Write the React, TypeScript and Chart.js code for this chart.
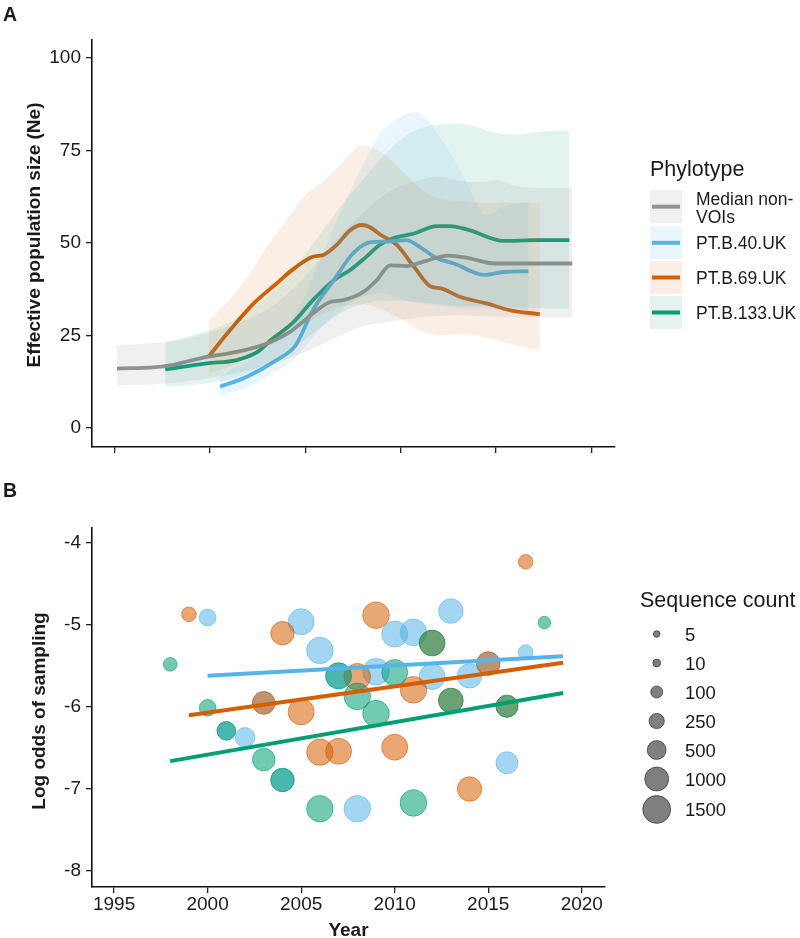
import { useEffect, useRef } from "react";
import { Chart, registerables } from "chart.js";

Chart.register(...registerables);

const FONT = '"Liberation Sans", Arial, Helvetica, sans-serif';
const INK = "#1a1a1a";

// ---------- shared x axis ----------
const X_MIN = 1993.82;
const X_MAX = 2021.24;
const yearTicks = [1995, 2000, 2005, 2010, 2015, 2020];

// ---------- panel A: effective population size ----------
const phylotypeNames = ["Median non-VOIs", "PT.B.40.UK", "PT.B.69.UK", "PT.B.133.UK"];
const lineColors = ["#929292", "#56B4E9", "#D55E00", "#009E73"];
const bandColors = [
  "rgba(150,150,150,0.14)",
  "rgba(86,180,233,0.12)",
  "rgba(213,94,0,0.10)",
  "rgba(0,158,115,0.11)",
];
const neTicks = [0, 25, 50, 75, 100];

const nonVoiYears = [1995.13, 1996, 1997, 1998, 1998.4, 1999.9, 2001.4, 2003, 2004.2, 2005.4, 2006.3, 2007, 2008.05, 2008.75, 2009.45, 2010.3, 2011.2, 2012.5, 2013.6, 2014.9, 2016, 2017, 2018, 2019];
const nonVoiNe = [16.1, 16.2, 16.4, 17, 17.5, 19.3, 20.6, 22.9, 26, 31, 34.1, 34.6, 36.8, 40, 44, 43.8, 45, 46.6, 45.9, 44.5, 44.5, 44.5, 44.5, 44.5];
const nonVoiBandYears = [1995.13, 1996, 1997, 1998, 1999, 2000, 2001, 2002, 2003, 2004, 2005, 2006, 2007, 2008, 2009, 2010, 2011, 2012, 2013, 2014, 2015, 2016, 2017, 2018, 2019];
const nonVoiLower = [11.6, 11.7, 11.8, 12.2, 12.8, 13.5, 14.5, 15.5, 17, 18.5, 20.5, 23, 25.5, 27.5, 28.5, 29.2, 30, 30.3, 30.5, 30.3, 30.2, 30, 30, 30, 30];
const nonVoiUpper = [22.4, 22.6, 23, 23.5, 24.5, 26, 27.5, 29.5, 32, 36, 41, 47, 53, 58, 62.5, 65.5, 67, 68, 67, 66.5, 67, 65.5, 65, 65, 65];

const b40Years = [2000.54, 2001.94, 2003.5, 2004.5, 2005.4, 2006.5, 2007.5, 2008.4, 2009.3, 2010.3, 2011.0, 2011.9, 2012.8, 2014.4, 2015.4, 2016.7];
const b40Ne = [11.2, 13.9, 18.4, 22.4, 31.9, 40, 47.2, 50.2, 50.4, 50.8, 49, 45.9, 44.5, 41.4, 42.2, 42.4];
const b40BandYears = [2000.54, 2001, 2002, 2003, 2004, 2005, 2006, 2007, 2008, 2009, 2010, 2010.7, 2011.4, 2012, 2013, 2014, 2014.4, 2015.4, 2016.7];
const b40Lower = [8.5, 9.5, 11, 14, 17, 22, 28, 32.5, 35.5, 36.5, 35, 34, 33.5, 33, 32.5, 32.3, 32.2, 32, 32];
const b40Upper = [14, 15.5, 18, 22, 27, 36, 48, 60, 71, 80, 84, 85.5, 83.5, 79, 71, 61, 57.5, 60, 61];

const b69Years = [1999.93, 2001.06, 2002.3, 2003.5, 2004.3, 2005.4, 2005.95, 2006.65, 2007.35, 2007.97, 2008.4, 2008.9, 2009.8, 2010.7, 2011.6, 2012.1, 2013.1, 2014.5, 2015.7, 2017.3];
const b69Ne = [19.3, 26.5, 33.7, 39.1, 42.7, 46.3, 46.8, 49.5, 53.5, 54.9, 54.3, 52.4, 49.5, 43.6, 38.2, 37.8, 35.5, 33.7, 31.9, 30.8];
const b69BandYears = [1999.93, 2001, 2002, 2003, 2004, 2005, 2006, 2007, 2008, 2009, 2010, 2011, 2012, 2013, 2014, 2015, 2016, 2017.3];
const b69Lower = [14.8, 16.5, 19, 22, 25, 28, 31, 33, 33.5, 32, 29.5, 26.5, 25, 25.5, 25, 23.8, 22.5, 21];
const b69Upper = [29, 34.5, 41, 49, 56, 63, 67, 72, 76.5, 74.5, 70, 65, 62, 61.5, 61, 61, 61, 61];

const b133Years = [1997.66, 1999.84, 2001.4, 2002.5, 2003.2, 2004.4, 2005.4, 2006.5, 2007.35, 2008.2, 2008.9, 2009.6, 2010.7, 2011.9, 2012.6, 2013.6, 2015.4, 2017.1, 2018.85];
const b133Ne = [15.9, 17.5, 18.4, 20.6, 23.8, 28.7, 34.6, 40, 42.7, 46.3, 49.5, 51.3, 52.6, 54.6, 54.6, 53.5, 50.6, 50.8, 50.8];
const b133BandYears = [1997.66, 1998, 1999, 2000, 2001, 2002, 2003, 2004, 2005, 2006, 2007, 2008, 2009, 2010, 2011, 2012, 2013, 2014, 2015, 2016, 2017, 2018, 2018.85];
const b133Lower = [11.2, 11.3, 11.6, 12.2, 13.2, 14.8, 17, 20, 24, 28, 31.5, 33.5, 34.5, 34.5, 34, 33.5, 33, 33, 32.8, 32.6, 32.5, 32.4, 32.4];
const b133Upper = [23.3, 23.6, 25, 26.5, 28.5, 31.5, 35.5, 40.5, 47, 54, 61, 67, 73, 78, 81, 82, 82.3, 81.3, 79.8, 79.3, 80, 80.3, 80.3];

const neSeries = [
  { years: nonVoiYears, median: nonVoiNe, bandYears: nonVoiBandYears, lower: nonVoiLower, upper: nonVoiUpper },
  { years: b40Years, median: b40Ne, bandYears: b40BandYears, lower: b40Lower, upper: b40Upper },
  { years: b69Years, median: b69Ne, bandYears: b69BandYears, lower: b69Lower, upper: b69Upper },
  { years: b133Years, median: b133Ne, bandYears: b133BandYears, lower: b133Lower, upper: b133Upper },
];

// ---------- panel B: log odds of sampling ----------
const logOddsTicks = [-8, -7, -6, -5, -4];
const countYears = [1998, 1999, 2000, 2001, 2002, 2003, 2004, 2005, 2006, 2007, 2008, 2009, 2010, 2011, 2012, 2013, 2014, 2015, 2016, 2017, 2018];
const sequenceCounts = [170, 220, 340, 480, 560, 850, 940, 1240, 1300, 1240, 1320, 1320, 1240, 1320, 1200, 1070, 1050, 940, 790, 220, 120];
const sizeBreaks = [5, 10, 100, 250, 500, 1000, 1500];

const b40SampleYears = [2000, 2001, 2002, 2003, 2004, 2005, 2006, 2007, 2008, 2009, 2010, 2011, 2012, 2013, 2014, 2015, 2016, 2017];
const b40LogOdds = [-4.91, -6.29, -6.37, -5.95, -6.89, -4.96, -5.31, -5.62, -7.24, -5.57, -5.11, -5.09, -5.63, -4.83, -5.62, -5.47, -6.68, -5.33];
const b69SampleYears = [1999, 2003, 2004, 2005, 2006, 2007, 2008, 2009, 2010, 2011, 2012, 2013, 2014, 2015, 2016, 2017];
const b69LogOdds = [-4.87, -5.95, -5.1, -6.06, -6.55, -6.54, -5.63, -4.88, -6.49, -5.79, -5.22, -5.92, -7.0, -5.47, -5.99, -4.23];
const b133SampleYears = [1998, 2000, 2001, 2003, 2004, 2006, 2007, 2008, 2009, 2010, 2011, 2012, 2013, 2016, 2018];
const b133LogOdds = [-5.48, -6.01, -6.29, -6.64, -6.89, -7.24, -5.62, -5.87, -6.08, -5.58, -7.17, -5.22, -5.92, -5.99, -4.97];

// fitted trends: [start year, end year] and [start value, end value]
const b40TrendYears = [2000, 2019];
const b40TrendFit = [-5.62, -5.38];
const b69TrendYears = [1999, 2019];
const b69TrendFit = [-6.1, -5.46];
const b133TrendYears = [1998, 2019];
const b133TrendFit = [-6.66, -5.83];

const pointRgb = ["86,180,233", "213,94,0", "0,158,115"];

// area scale for the bubbles (radius grows with sqrt of count)
function bubbleRadius(count: number) {
  const t = Math.max(0, count - 5) / (1600 - 5);
  return 3.3 + 11 * Math.sqrt(t);
}

function countFor(year: number) {
  const i = countYears.indexOf(year);
  return i >= 0 ? sequenceCounts[i] : 100;
}

function zip(xs: number[], ys: number[]) {
  return xs.map((x, i) => ({ x, y: ys[i] }));
}

function setText(ctx: CanvasRenderingContext2D, size: number, weight = "normal") {
  ctx.font = `${weight} ${size}px ${FONT}`;
  ctx.fillStyle = INK;
}

function axisCommon() {
  return {
    grid: { display: true, drawOnChartArea: false, drawTicks: true, tickLength: 6, color: "#222", lineWidth: 1.3 },
    border: { display: true, color: "#111", width: 1.6 },
  };
}

const panelAExtras = {
  id: "panelAExtras",
  afterDraw(chart: any) {
    const ctx: CanvasRenderingContext2D = chart.ctx;
    ctx.save();
    setText(ctx, 19.5, "bold");
    ctx.textAlign = "left";
    ctx.textBaseline = "alphabetic";
    ctx.fillText("A", 3, 21);

    // y axis title
    ctx.save();
    ctx.translate(35, 235);
    ctx.rotate(-Math.PI / 2);
    setText(ctx, 19, "bold");
    ctx.textAlign = "center";
    ctx.textBaseline = "middle";
    ctx.fillText("Effective population size (Ne)", 0, 0);
    ctx.restore();

    // legend
    const x0 = 650;
    setText(ctx, 21.5);
    ctx.textAlign = "left";
    ctx.fillText("Phylotype", x0, 176);
    const centers = [206.7, 242.8, 277.5, 312.5];
    phylotypeNames.forEach((name, i) => {
      const c = centers[i];
      ctx.fillStyle = "#fff";
      ctx.fillRect(x0, c - 16.5, 32, 33);
      ctx.fillStyle = bandColors[i];
      ctx.fillRect(x0, c - 16.5, 32, 33);
      ctx.strokeStyle = lineColors[i];
      ctx.lineWidth = 4;
      ctx.beginPath();
      ctx.moveTo(x0 + 2, c);
      ctx.lineTo(x0 + 30, c);
      ctx.stroke();
      setText(ctx, 17.5);
      if (i === 0) {
        ctx.fillText("Median non-", x0 + 46, 205);
        ctx.fillText("VOIs", x0 + 46, 222.7);
      } else {
        ctx.fillText(name, x0 + 46, c + 6.5);
      }
    });
    ctx.restore();
  },
};

const panelBExtras = {
  id: "panelBExtras",
  afterDraw(chart: any) {
    const ctx: CanvasRenderingContext2D = chart.ctx;
    ctx.save();
    setText(ctx, 19.5, "bold");
    ctx.textAlign = "left";
    ctx.textBaseline = "alphabetic";
    ctx.fillText("B", 3, 29);

    // axis titles
    ctx.save();
    ctx.translate(40, 243);
    ctx.rotate(-Math.PI / 2);
    setText(ctx, 19, "bold");
    ctx.textAlign = "center";
    ctx.textBaseline = "middle";
    ctx.fillText("Log odds of sampling", 0, 0);
    ctx.restore();

    const area = chart.chartArea;
    setText(ctx, 19, "bold");
    ctx.textAlign = "center";
    ctx.textBaseline = "alphabetic";
    ctx.fillText("Year", (area.left + area.right) / 2, 467.5);

    // size legend
    setText(ctx, 21.5);
    ctx.textAlign = "left";
    ctx.fillText("Sequence count", 640, 139);
    let top = 151.5;
    sizeBreaks.forEach((v) => {
      const r = bubbleRadius(v);
      const h = Math.max(29, 2 * r + 4);
      const c = top + h / 2;
      ctx.beginPath();
      ctx.arc(656.7, c, r, 0, Math.PI * 2);
      ctx.fillStyle = "rgba(0,0,0,0.5)";
      ctx.fill();
      ctx.strokeStyle = "rgba(30,30,30,0.6)";
      ctx.lineWidth = 1;
      ctx.stroke();
      setText(ctx, 18.5);
      ctx.fillText(String(v), 685, c + 6.7);
      top += h;
    });
    ctx.restore();
  },
};

function buildPanelA(): any {
  const datasets: any[] = [];
  neSeries.forEach((s, i) => {
    datasets.push({
      type: "line",
      label: phylotypeNames[i],
      data: zip(s.years, s.median),
      borderColor: lineColors[i],
      borderWidth: 3.8,
      pointRadius: 0,
      fill: false,
      cubicInterpolationMode: "monotone",
      order: 2,
    });
  });
  neSeries.forEach((s, i) => {
    datasets.push({
      type: "line",
      label: phylotypeNames[i] + " lower",
      data: zip(s.bandYears, s.lower),
      borderColor: "rgba(0,0,0,0)",
      borderWidth: 0,
      pointRadius: 0,
      fill: false,
      cubicInterpolationMode: "monotone",
      order: 1,
    });
    datasets.push({
      type: "line",
      label: phylotypeNames[i] + " upper",
      data: zip(s.bandYears, s.upper),
      borderColor: "rgba(0,0,0,0)",
      backgroundColor: bandColors[i],
      borderWidth: 0,
      pointRadius: 0,
      fill: "-1",
      cubicInterpolationMode: "monotone",
      order: 1,
    });
  });
  return {
    type: "line",
    data: { datasets },
    options: {
      animation: false,
      responsive: false,
      events: [],
      layout: { padding: { top: 40, right: 185, bottom: 0, left: 0 } },
      plugins: { legend: { display: false }, tooltip: { enabled: false } },
      scales: {
        x: {
          type: "linear",
          min: X_MIN,
          max: X_MAX,
          afterBuildTicks: (s: any) => { s.ticks = yearTicks.map((v) => ({ value: v })); },
          afterFit: (s: any) => { s.height = 23; },
          ticks: { callback: () => "", padding: 0 },
          ...axisCommon(),
        },
        y: {
          type: "linear",
          min: -5.1,
          max: 104.9,
          afterBuildTicks: (s: any) => { s.ticks = neTicks.map((v) => ({ value: v })); },
          afterFit: (s: any) => { s.width = 92; },
          ticks: { font: { family: FONT, size: 19 }, color: INK, padding: 5, callback: (v: any) => String(v) },
          ...axisCommon(),
        },
      },
    },
    plugins: [panelAExtras],
  };
}

function bubbleSet(label: string, years: number[], values: number[], rgb: string, order: number) {
  return {
    type: "bubble",
    label,
    data: years.map((x, i) => ({ x, y: values[i], r: bubbleRadius(countFor(x)) })),
    backgroundColor: `rgba(${rgb},0.55)`,
    borderColor: `rgba(${rgb},0.6)`,
    borderWidth: 1,
    order,
  };
}

function trendSet(label: string, years: number[], fit: number[], color: string) {
  return {
    type: "line",
    label,
    data: zip(years, fit),
    borderColor: color,
    borderWidth: 4,
    pointRadius: 0,
    fill: false,
    order: 0,
  };
}

function buildPanelB(): any {
  const datasets = [
    bubbleSet("PT.B.40.UK", b40SampleYears, b40LogOdds, pointRgb[0], 3),
    bubbleSet("PT.B.69.UK", b69SampleYears, b69LogOdds, pointRgb[1], 2),
    bubbleSet("PT.B.133.UK", b133SampleYears, b133LogOdds, pointRgb[2], 1),
    trendSet("PT.B.40.UK trend", b40TrendYears, b40TrendFit, "#56B4E9"),
    trendSet("PT.B.69.UK trend", b69TrendYears, b69TrendFit, "#D55E00"),
    trendSet("PT.B.133.UK trend", b133TrendYears, b133TrendFit, "#009E73"),
  ];
  return {
    type: "bubble",
    data: { datasets },
    options: {
      animation: false,
      responsive: false,
      events: [],
      layout: { padding: { top: 60, right: 195, bottom: 0, left: 0 } },
      plugins: { legend: { display: false }, tooltip: { enabled: false } },
      scales: {
        x: {
          type: "linear",
          min: X_MIN,
          max: X_MAX,
          afterBuildTicks: (s: any) => { s.ticks = yearTicks.map((v) => ({ value: v })); },
          afterFit: (s: any) => { s.height = 51; },
          ticks: { font: { family: FONT, size: 19 }, color: INK, padding: 0, callback: (v: any) => String(v) },
          ...axisCommon(),
        },
        y: {
          type: "linear",
          min: -8.195,
          max: -3.817,
          afterBuildTicks: (s: any) => { s.ticks = logOddsTicks.map((v) => ({ value: v })); },
          afterFit: (s: any) => { s.width = 92; },
          ticks: { font: { family: FONT, size: 19 }, color: INK, padding: 5, callback: (v: any) => String(v) },
          ...axisCommon(),
        },
      },
    },
    plugins: [panelBExtras],
  };
}

export default function App() {
  const refA = useRef<HTMLCanvasElement>(null);
  const refB = useRef<HTMLCanvasElement>(null);

  useEffect(() => {
    const a = new Chart(refA.current as HTMLCanvasElement, buildPanelA());
    const b = new Chart(refB.current as HTMLCanvasElement, buildPanelB());
    return () => {
      a.destroy();
      b.destroy();
    };
  }, []);

  return (
    <div style={{ position: "absolute", left: 0, top: 0, width: 800, height: 938, background: "#fff", overflow: "hidden" }}>
      <canvas ref={refA} width={800} height={470} style={{ position: "absolute", left: 0, top: 0 }} />
      <canvas ref={refB} width={800} height={470} style={{ position: "absolute", left: 0, top: 468 }} />
    </div>
  );
}
